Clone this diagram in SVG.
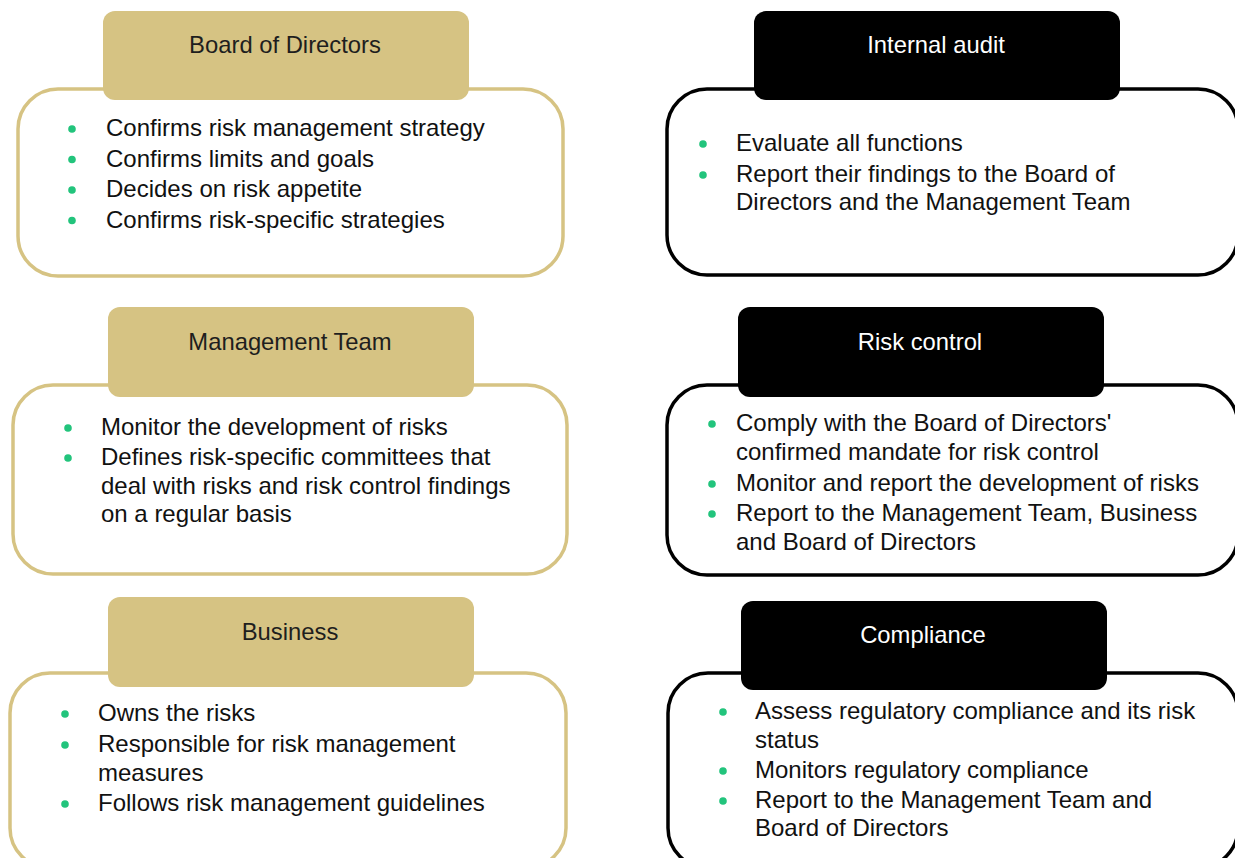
<svg xmlns="http://www.w3.org/2000/svg" width="1235" height="858" viewBox="0 0 1235 858">
<style>
.bg{fill:#ffffff}
.bodyG{fill:#ffffff;stroke:#D6C383;stroke-width:3.5}
.bodyK{fill:#ffffff;stroke:#000000;stroke-width:3.5}
.headG{fill:#D6C383}
.headK{fill:#000000}
.ht{font-family:"Liberation Sans",Arial,sans-serif;font-size:23.8px;text-anchor:middle}
.htG{fill:#1e1e1e}
.htK{fill:#ffffff}
.t{font-family:"Liberation Sans",Arial,sans-serif;font-size:24px;fill:#111111}
.b{fill:#22C47C}
</style>
<rect class="bg" x="0" y="0" width="1235" height="858"/>
<g id="connectors"></g>

<g id="board">
<rect class="bodyG" x="18" y="89" width="545" height="187" rx="40"/>
<rect class="headG" x="103" y="11" width="366" height="89" rx="12"/>
<text class="ht htG" x="285" y="53">Board of Directors</text>
<circle class="b" cx="72" cy="129" r="3.8"/>
<text class="t" x="106" y="136">Confirms risk management strategy</text>
<circle class="b" cx="72" cy="159.5" r="3.8"/>
<text class="t" x="106" y="166.5">Confirms limits and goals</text>
<circle class="b" cx="72" cy="190" r="3.8"/>
<text class="t" x="106" y="197">Decides on risk appetite</text>
<circle class="b" cx="72" cy="220.5" r="3.8"/>
<text class="t" x="106" y="227.5">Confirms risk-specific strategies</text>
</g>

<g id="internal-audit">
<rect class="bodyK" x="667" y="89" width="571" height="186" rx="40"/>
<rect class="headK" x="754" y="11" width="366" height="89" rx="12"/>
<text class="ht htK" x="936" y="53">Internal audit</text>
<circle class="b" cx="703" cy="144" r="3.8"/>
<text class="t" x="736" y="151">Evaluate all functions</text>
<circle class="b" cx="703" cy="175" r="3.8"/>
<text class="t" x="736" y="182">Report their findings to the Board of</text>
<text class="t" x="736" y="210">Directors and the Management Team</text>
</g>

<g id="management-team">
<rect class="bodyG" x="13" y="385" width="554" height="189" rx="40"/>
<rect class="headG" x="108" y="307" width="366" height="90" rx="12"/>
<text class="ht htG" x="290" y="350">Management Team</text>
<circle class="b" cx="68" cy="428" r="3.8"/>
<text class="t" x="101" y="435">Monitor the development of risks</text>
<circle class="b" cx="68" cy="458" r="3.8"/>
<text class="t" x="101" y="465">Defines risk-specific committees that</text>
<text class="t" x="101" y="493.5">deal with risks and risk control findings</text>
<text class="t" x="101" y="522">on a regular basis</text>
</g>

<g id="risk-control">
<rect class="bodyK" x="667" y="385" width="571" height="190" rx="40"/>
<rect class="headK" x="738" y="307" width="366" height="90" rx="12"/>
<text class="ht htK" x="920" y="350">Risk control</text>
<circle class="b" cx="712" cy="424" r="3.8"/>
<text class="t" x="736" y="431">Comply with the Board of Directors'</text>
<text class="t" x="736" y="460">confirmed mandate for risk control</text>
<circle class="b" cx="712" cy="484" r="3.8"/>
<text class="t" x="736" y="491">Monitor and report the development of risks</text>
<circle class="b" cx="712" cy="514" r="3.8"/>
<text class="t" x="736" y="521">Report to the Management Team, Business</text>
<text class="t" x="736" y="549.5">and Board of Directors</text>
</g>

<g id="business">
<rect class="bodyG" x="10" y="673" width="556" height="195" rx="40"/>
<rect class="headG" x="108" y="597" width="366" height="90" rx="12"/>
<text class="ht htG" x="290" y="640">Business</text>
<circle class="b" cx="65" cy="714" r="3.8"/>
<text class="t" x="98" y="721">Owns the risks</text>
<circle class="b" cx="65" cy="745" r="3.8"/>
<text class="t" x="98" y="752">Responsible for risk management</text>
<text class="t" x="98" y="781">measures</text>
<circle class="b" cx="65" cy="804" r="3.8"/>
<text class="t" x="98" y="811">Follows risk management guidelines</text>
</g>

<g id="compliance">
<rect class="bodyK" x="668" y="673" width="570" height="195" rx="40"/>
<rect class="headK" x="741" y="601" width="366" height="89" rx="12"/>
<text class="ht htK" x="923" y="643">Compliance</text>
<circle class="b" cx="723" cy="712" r="3.8"/>
<text class="t" x="755" y="719">Assess regulatory compliance and its risk</text>
<text class="t" x="755" y="748">status</text>
<circle class="b" cx="723" cy="771" r="3.8"/>
<text class="t" x="755" y="778">Monitors regulatory compliance</text>
<circle class="b" cx="723" cy="801" r="3.8"/>
<text class="t" x="755" y="808">Report to the Management Team and</text>
<text class="t" x="755" y="836">Board of Directors</text>
</g>
</svg>
